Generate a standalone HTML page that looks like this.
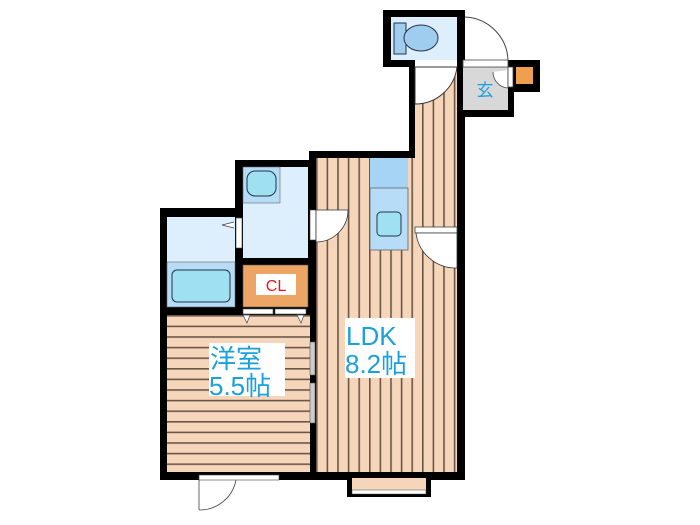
<!DOCTYPE html>
<html><head><meta charset="utf-8"><style>
html,body{margin:0;padding:0;background:#fff;width:700px;height:525px;overflow:hidden}
svg{display:block}
</style></head><body>
<svg width="700" height="525" viewBox="0 0 700 525" xmlns="http://www.w3.org/2000/svg">
<defs>
<pattern id="vs" x="316" y="0" width="10.6" height="10" patternUnits="userSpaceOnUse">
<rect width="10.6" height="10" fill="#f6d6ba"/><rect x="0" width="1.6" height="10" fill="#6b5646"/>
</pattern>
<pattern id="hs" x="0" y="315" width="10" height="10.6" patternUnits="userSpaceOnUse">
<rect width="10" height="10.6" fill="#f6d6ba"/><rect y="0" width="10" height="1.6" fill="#6b5646"/>
</pattern>
</defs>
<rect x="383" y="10" width="82" height="57" fill="#000"/>
<rect x="409" y="60" width="56" height="170" fill="#000"/>
<rect x="457" y="60" width="57" height="57" fill="#000"/>
<rect x="508" y="60" width="32" height="32" fill="#000"/>
<rect x="309" y="151" width="156" height="329" fill="#000"/>
<rect x="235" y="160" width="82" height="155" fill="#000"/>
<rect x="160" y="208" width="90" height="272" fill="#000"/>
<rect x="160" y="300" width="156" height="180" fill="#000"/>
<rect x="391" y="17" width="66" height="43" fill="#ddeefc"/>
<rect x="394" y="23" width="12" height="31" fill="#9fcdef" stroke="#234" stroke-width="1"/>
<ellipse cx="421" cy="38" rx="17" ry="13" fill="#9fcdef" stroke="#234" stroke-width="1"/>
<rect x="415" y="67" width="42" height="160" fill="url(#vs)"/>
<rect x="415" y="60" width="42" height="7" fill="#fff"/>
<path d="M415 67 L457 67 A42 42 0 0 1 415 104 Z" fill="#fff" stroke="#333" stroke-width="1"/>
<rect x="463" y="67" width="45" height="43" fill="#d8d8d8"/>
<rect x="463" y="60" width="45" height="7" fill="#fff" stroke="#444" stroke-width="0.8"/>
<path d="M465 17 A45 45 0 0 1 508 60" fill="none" stroke="#444" stroke-width="1"/>
<path d="M508 70 L508 88 A16 16 0 0 1 493 72" fill="#fff" stroke="#444" stroke-width="0.8"/>
<rect x="508" y="67" width="5" height="20" fill="#fff" stroke="#444" stroke-width="0.8"/>
<rect x="516" y="67" width="17" height="17" fill="#ef9f50"/>
<text x="485" y="96" font-family="Liberation Sans,'Noto Sans CJK JP',sans-serif" font-size="17" fill="#1aa0dd" text-anchor="middle">玄</text>
<rect x="316" y="158" width="141" height="314" fill="url(#vs)"/>
<rect x="370" y="158" width="38" height="30" fill="#a6d4f5"/>
<rect x="370" y="188" width="38" height="62" fill="#b6dcf7" stroke="#666" stroke-width="0.8"/>
<rect x="377" y="212" width="24" height="24" rx="4" fill="#9fe0f2" stroke="#234" stroke-width="1"/>
<rect x="415" y="227" width="42" height="6" fill="#fff" stroke="#444" stroke-width="0.8"/>
<path d="M457 233 L457 268 A40 40 0 0 1 416 233 Z" fill="#fff" stroke="#333" stroke-width="0.8"/>
<rect x="243" y="167" width="65" height="91" fill="#ddeefc"/>
<rect x="243" y="167" width="37" height="36" fill="#b6dcf7" stroke="#666" stroke-width="0.6"/>
<rect x="247" y="171" width="29" height="25" rx="8" fill="#9fe0f2" stroke="#234" stroke-width="1"/>
<rect x="310" y="210" width="6" height="30" fill="#fff" stroke="#444" stroke-width="0.6"/>
<path d="M316 210 L348 210 A32 32 0 0 1 316 242 Z" fill="#fff" stroke="#333" stroke-width="0.8"/>
<rect x="167" y="217" width="68" height="90" fill="#ddeefc"/>
<rect x="167" y="262" width="68" height="45" fill="#b6dcf7" stroke="#666" stroke-width="0.6"/>
<rect x="172" y="270" width="58" height="32" rx="5" fill="#9fe0f2" stroke="#234" stroke-width="1"/>
<rect x="236" y="218" width="6" height="30" fill="#fff" stroke="#444" stroke-width="0.6"/>
<path d="M234 222 L222 225 L234 228" fill="#fff" stroke="#444" stroke-width="0.8"/>
<rect x="243" y="265" width="65" height="42" fill="#eda566" stroke="#555" stroke-width="0.6"/>
<rect x="256" y="274" width="40" height="21" fill="#fff"/>
<text x="276" y="291" font-family="Liberation Sans,sans-serif" font-size="16" fill="#e8151b" text-anchor="middle">CL</text>
<rect x="243" y="309" width="30" height="5" fill="#fff" stroke="#555" stroke-width="0.6"/>
<rect x="275" y="309" width="31" height="5" fill="#fff" stroke="#555" stroke-width="0.6"/>
<rect x="167" y="315" width="143" height="157" fill="url(#hs)"/>
<path d="M243 315 L250 315 L247 323 Z M297 315 L304 315 L301 323 Z" fill="#fff" stroke="#444" stroke-width="0.7"/>
<rect x="310" y="342" width="5" height="33" fill="#ccc" stroke="#555" stroke-width="0.6"/>
<rect x="310" y="383" width="5" height="40" fill="#ccc" stroke="#555" stroke-width="0.6"/>
<rect x="209" y="343" width="76" height="53" fill="#fff"/>
<text x="210" y="368" font-family="Liberation Sans,'Noto Sans CJK JP',sans-serif" font-size="26" fill="#1aa0dd">洋室</text>
<text x="209" y="395" font-family="Liberation Sans,'Noto Sans CJK JP',sans-serif" font-size="26" fill="#1aa0dd">5.5帖</text>
<rect x="345" y="318" width="70" height="60" fill="#fff"/>
<text x="346" y="345" font-family="Liberation Sans,'Noto Sans CJK JP',sans-serif" font-size="26" fill="#1aa0dd">LDK</text>
<text x="345" y="373" font-family="Liberation Sans,'Noto Sans CJK JP',sans-serif" font-size="26" fill="#1aa0dd">8.2帖</text>
<rect x="199" y="475" width="80" height="5" fill="#fff" stroke="#444" stroke-width="0.6"/>
<path d="M199 480 L199 510 M199 510 A37 37 0 0 0 236 480" fill="none" stroke="#444" stroke-width="0.8"/>
<rect x="347" y="478" width="84" height="19" fill="#000"/>
<rect x="352" y="478" width="74" height="13" fill="#f6d6ba"/>
<rect x="352" y="490" width="74" height="4" fill="#fff" stroke="#444" stroke-width="0.5"/>
</svg>
</body></html>
